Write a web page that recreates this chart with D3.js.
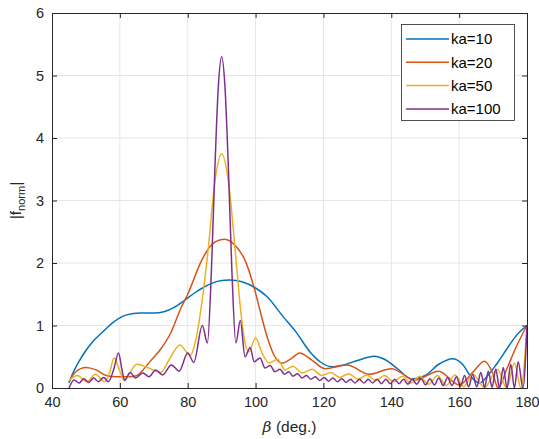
<!DOCTYPE html>
<html>
<head>
<meta charset="utf-8">
<script src="https://cdn.jsdelivr.net/npm/d3@7"></script>
<style>
  body { margin: 0; background: #fff; }
  svg text { font-family: Arial, "Liberation Sans", sans-serif; }
</style>
</head>
<body>
<div id="chart"></div>
<script>
// values: [beta (deg), |f_norm|]
const ka10 = [[45,0.08],[46,0.22],[48,0.43],[50,0.6],[52,0.74],[55,0.9],[58,1.05],[62,1.17],[66,1.2],[70,1.2],[73,1.22],
  [76,1.29],[79,1.4],[82,1.52],[85,1.62],[89,1.71],[92.5,1.73],[96,1.7],[100,1.6],[103.4,1.46],[108,1.15],[112,0.89],
  [116,0.58],[119,0.42],[122.5,0.34],[126,0.37],[130,0.44],[135,0.51],[138,0.46],[142,0.3],[146,0.14],[150,0.2],
  [154,0.38],[158,0.47],[161,0.38],[163.5,0.18],[166,0.08],[168,0.17],[171,0.38],[174,0.62],[177,0.85],[180,1.0]];

const ka20 = [[45,0.1],[47,0.26],[50,0.33],[53,0.29],[56,0.2],[59,0.18],[63,0.18],[65,0.2],[67,0.3],[69,0.43],[72,0.62],
  [75,0.88],[78,1.28],[80,1.5],[84,2.03],[86,2.22],[88.5,2.35],[90.8,2.38],[94,2.28],[97,2.03],[99.5,1.62],[101.5,1.2],
  [103.4,0.82],[105.5,0.52],[107.8,0.4],[110.5,0.47],[113,0.56],[116.5,0.45],[120.5,0.31],[127,0.37],[133.5,0.22],
  [140,0.31],[147,0.13],[154,0.27],[160,0.05],[164,0.25],[167.5,0.43],[169.8,0.25],[171.5,0.0],[174,0.3],[177,0.68],[180,1.0]];

const ka50 = [[45,0.12],[47.5,0.2],[50.3,0.1],[52.8,0.22],[55.5,0.1],[57,0.25],[58.3,0.48],[59.8,0.3],[61.2,0.13],
  [65,0.38],[68.5,0.32],[72,0.25],[74.5,0.45],[77.7,0.69],[80.7,0.52],[82.5,0.8],[84,1.3],[86,2.2],[88,3.3],[90,3.75],
  [92,3.3],[94,2.2],[95.5,1.3],[96.8,0.75],[98,0.58],[100,0.8],[102,0.55],[104,0.4],[106.5,0.46],[108.7,0.29],[111,0.35],
  [113.7,0.24],[116.7,0.3],[119.5,0.2],[122.2,0.25],[124.8,0.17],[127.5,0.23],[130.2,0.14],[132.8,0.21],[135.4,0.12],
  [138,0.2],[140.6,0.1],[143.2,0.19],[145.8,0.08],[148.4,0.19],[151,0.06],[153.6,0.2],[156.2,0.04],[158.8,0.21],
  [161.4,0.02],[164,0.22],[167.5,0.01],[171.3,0.3],[174,0],[176.3,0.4],[178.2,0],[180,1.0]];

const ka100 = [[45,0],[46.5,0.13],[48,0.08],[49.4,0.15],[50.8,0.09],[52.3,0.16],[53.7,0.1],[55.2,0.17],[56.6,0.1],
  [58.2,0.3],[59.6,0.56],[60.6,0.3],[61.4,0.12],[63,0.25],[64.6,0.16],[66.8,0.24],[68.6,0.18],[70.5,0.29],[72.6,0.21],
  [75.2,0.37],[77.5,0.27],[80,0.56],[81.8,0.41],[84.3,1.0],[85.8,0.72],[87,1.9],[88,3.5],[89,4.8],[90,5.3],[91,4.8],
  [92,3.5],[93,1.9],[94.2,0.72],[95.5,1.08],[96.9,0.5],[98.4,0.65],[99.6,0.42],[101.3,0.48],[102.8,0.32],[104.3,0.36],
  [105.7,0.26],[107.2,0.3],[108.5,0.22],[109.8,0.26],[111,0.19],[112.4,0.23],[113.7,0.16],[115,0.2],[116.3,0.14],
  [117.6,0.18],[118.9,0.12],[120.2,0.17],[121.5,0.11],[122.8,0.16],[124.1,0.1],[125.4,0.15],[126.7,0.09],[128,0.14],
  [129.3,0.08],[130.6,0.14],[131.9,0.08],[133.2,0.14],[134.5,0.08],[135.8,0.14],[137.1,0.07],[138.4,0.14],[139.7,0.07],
  [141,0.14],[142.3,0.07],[143.6,0.14],[144.9,0.06],[146.2,0.14],[147.5,0.06],[148.8,0.15],[150.1,0.05],[151.4,0.15],
  [152.7,0.05],[154,0.16],[155.3,0.04],[156.6,0.17],[157.9,0.04],[159.2,0.18],[160.4,0.03],[161.6,0.2],[162.8,0.02],
  [164,0.22],[165.2,0.02],[166.4,0.25],[167.5,0.01],[168.6,0.27],[169.7,0.01],[170.8,0.3],[171.9,0],[173,0.33],
  [174.1,0],[175.2,0.38],[176.3,0],[177.4,0.42],[178.8,0],[180,1.0]];

const seriesNames = ["ka=10", "ka=20", "ka=50", "ka=100"];
const seriesColors = ["#0072BD", "#D95319", "#EDB120", "#7E2F8E"];
const xTicks = [40, 60, 80, 100, 120, 140, 160, 180];
const yTicks = [0, 1, 2, 3, 4, 5, 6];

const width = 539, height = 439;
const margin = {left: 52, right: 12, top: 13, bottom: 51};
const axisColor = "#262626";

const svg = d3.select("#chart")
  .append("svg")
  .attr("width", width)
  .attr("height", height);

const x = d3.scaleLinear().domain([40, 180]).range([margin.left, width - margin.right]);
const y = d3.scaleLinear().domain([0, 6]).range([height - margin.bottom, margin.top]);

// grid
svg.append("g")
  .selectAll("line")
  .data(xTicks.slice(1, -1))
  .join("line")
  .attr("x1", d => x(d)).attr("x2", d => x(d))
  .attr("y1", y(0)).attr("y2", y(6))
  .attr("stroke", "#e6e6e6");
svg.append("g")
  .selectAll("line")
  .data(yTicks.slice(1, -1))
  .join("line")
  .attr("x1", x(40)).attr("x2", x(180))
  .attr("y1", d => y(d)).attr("y2", d => y(d))
  .attr("stroke", "#e6e6e6");

// lines
svg.append("clipPath").attr("id", "clip")
  .append("rect")
  .attr("x", x(40)).attr("y", y(6))
  .attr("width", x(180) - x(40)).attr("height", y(0) - y(6));

const line = d3.line()
  .x(d => x(d[0]))
  .y(d => y(d[1]))
  .curve(d3.curveMonotoneX);

const allSeries = [ka10, ka20, ka50, ka100];
svg.append("g")
  .attr("clip-path", "url(#clip)")
  .selectAll("path")
  .data(allSeries)
  .join("path")
  .attr("d", line)
  .attr("fill", "none")
  .attr("stroke", (d, i) => seriesColors[i])
  .attr("stroke-width", 1.5)
  .attr("stroke-linejoin", "round");

// axes (ticks inward, box on)
const tickLen = 5;
const fmt = d3.format("d");
svg.append("g")
  .attr("transform", `translate(0,${y(0)})`)
  .call(d3.axisBottom(x).tickValues(xTicks).tickFormat(fmt).tickSizeInner(-tickLen).tickSizeOuter(0).tickPadding(9))
  .call(g => g.select(".domain").attr("stroke", axisColor));
svg.append("g")
  .attr("transform", `translate(0,${y(6)})`)
  .call(d3.axisTop(x).tickValues(xTicks).tickSizeInner(-tickLen).tickSizeOuter(0).tickFormat(""))
  .call(g => g.select(".domain").attr("stroke", axisColor));
svg.append("g")
  .attr("transform", `translate(${x(40)},0)`)
  .call(d3.axisLeft(y).tickValues(yTicks).tickFormat(fmt).tickSizeInner(-tickLen).tickSizeOuter(0).tickPadding(8))
  .call(g => g.select(".domain").attr("stroke", axisColor));
svg.append("g")
  .attr("transform", `translate(${x(180)},0)`)
  .call(d3.axisRight(y).tickValues(yTicks).tickSizeInner(-tickLen).tickSizeOuter(0).tickFormat(""))
  .call(g => g.select(".domain").attr("stroke", axisColor));

svg.selectAll(".tick line").attr("stroke", axisColor);
svg.selectAll(".tick text")
  .attr("fill", axisColor)
  .style("font-size", "14.5px")
  .style("font-family", "Arial, 'Liberation Sans', sans-serif");

// axis labels
const xl = svg.append("text")
  .attr("x", (x(40) + x(180)) / 2)
  .attr("y", 432)
  .attr("text-anchor", "middle")
  .attr("fill", axisColor)
  .style("font-size", "15.5px");
xl.append("tspan").style("font-family", "'DejaVu Serif', serif").style("font-style", "italic").text("β");
xl.append("tspan").text(" (deg.)");

const yl = svg.append("text")
  .attr("transform", `translate(21,${(y(0) + y(6)) / 2}) rotate(-90)`)
  .attr("text-anchor", "middle")
  .attr("fill", axisColor)
  .style("font-size", "15.5px");
yl.append("tspan").text("|f");
yl.append("tspan").attr("dy", 4).style("font-size", "11px").text("norm");
yl.append("tspan").attr("dy", -4).text("|");

// legend
const legend = svg.append("g");
legend.append("rect")
  .attr("x", 401.5).attr("y", 24.5)
  .attr("width", 113).attr("height", 96)
  .attr("fill", "#fff")
  .attr("stroke", axisColor)
  .attr("stroke-width", 0.8);
const rows = legend.selectAll("g")
  .data(seriesNames)
  .join("g")
  .attr("transform", (d, i) => `translate(0,${39 + i * 23.3})`);
rows.append("line")
  .attr("x1", 406).attr("x2", 449)
  .attr("stroke", (d, i) => seriesColors[i])
  .attr("stroke-width", 1.5);
rows.append("text")
  .attr("x", 451)
  .attr("dy", "0.35em")
  .attr("fill", "#000")
  .style("font-size", "15px")
  .text(d => d);
</script>
</body>
</html>
